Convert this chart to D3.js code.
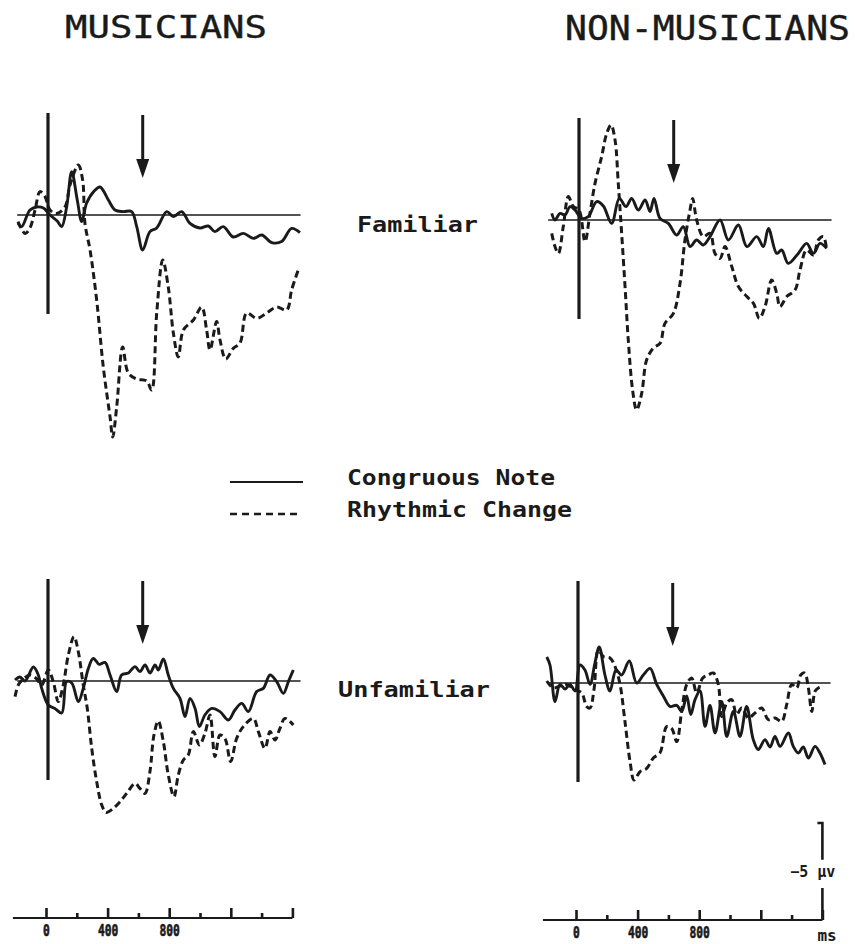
<!DOCTYPE html>
<html>
<head>
<meta charset="utf-8">
<script src="https://cdn.jsdelivr.net/npm/d3@7"></script>
<style>
body{margin:0;background:#fff;}
svg{display:block;background:#fff;}
text{fill:#1a1a1a;}
</style>
</head>
<body>
<svg id="chart" width="855" height="944"></svg>
<script>
// ---- data: [time ms, amplitude µV] (positive plotted downward) ----
var musFamCongruous=[[-195,0.4],[-171,0.58],[-117,-0.25],[-73,-0.4],[-30,-0.35],[13,0],[60,0.3],[89,0.58],[121,-0.4],[154,-2.17],[190,-0.75],[219,0.33],[251,-0.6],[300,-1.2],[338,-1.4],[392,-0.75],[435,-0.25],[488,-0.17],[543,-0.17],[576,0.58],[615,1.75],[662,0.83],[706,0.65],[771,-0.17],[814,0.08],[868,-0.17],[922,0.42],[987,0.65],[1041,0.55],[1084,0.83],[1138,0.58],[1203,1.1],[1268,0.92],[1333,1.17],[1388,1.0],[1453,1.38],[1517,1.33],[1582,0.67],[1636,0.88]];
var musFamRhythmic=[[-195,0.33],[-149,0.92],[-117,0.65],[-84,-0.25],[-52,-1.17],[-19,-0.92],[13,-0.25],[56,-0.08],[110,-0.4],[143,-1.5],[197,-2.5],[225,-1.75],[240,0.42],[273,1.75],[316,4.25],[359,7.6],[403,10.1],[420,11.1],[446,9.6],[485,6.6],[521,7.9],[576,8.2],[641,8.3],[673,8.75],[706,4.9],[745,2.25],[781,3.6],[814,5.9],[846,7.1],[879,5.75],[944,5.25],[998,4.6],[1030,5.75],[1052,6.75],[1095,5.33],[1117,6.25],[1154,7.2],[1203,6.67],[1247,6.4],[1290,4.9],[1355,5.17],[1420,4.9],[1485,4.6],[1550,4.75],[1582,3.75],[1625,2.75]];
var nonFamCongruous=[[-177,-0.33],[-156,0],[-123,-0.33],[-91,-0.25],[-58,-0.67],[-26,-0.5],[17,-0.08],[60,-0.17],[115,-0.92],[158,-0.7],[212,0.17],[262,-1.08],[305,-0.67],[342,-1.08],[385,-0.5],[429,-1.0],[461,-0.42],[487,-1.08],[526,-0.08],[580,0.17],[634,0.75],[677,0.33],[721,1.33],[764,1.0],[807,1.25],[851,0.83],[916,0],[970,1.0],[1035,0.25],[1090,1.33],[1154,0.83],[1197,1.33],[1230,0.42],[1284,1.67],[1316,1.5],[1359,2.17],[1424,1.67],[1478,1.17],[1522,1.67],[1565,1.17],[1608,1.42]];
var nonFamRhythmic=[[-177,0.67],[-156,1.33],[-134,1.67],[-102,0.33],[-69,-1.17],[-37,-0.67],[0,-0.5],[39,1.08],[71,-0.33],[104,-1.83],[147,-3.17],[180,-4.33],[208,-4.75],[234,-4.0],[255,-1.83],[277,0.67],[299,3.33],[320,6.0],[348,8.5],[374,9.5],[407,8.67],[439,7.0],[483,6.4],[526,6.17],[558,5.17],[613,4.67],[656,3.17],[688,1.0],[721,-0.5],[738,-1.08],[764,0],[807,0.83],[851,0.67],[883,1.67],[916,1.92],[948,1.33],[992,2.33],[1035,3.33],[1090,3.83],[1133,4.17],[1171,4.92],[1208,4.33],[1251,3.0],[1284,3.67],[1305,4.33],[1349,3.83],[1403,3.5],[1435,2.5],[1478,1.5],[1522,1.75],[1554,1.0],[1587,0.83],[1608,1.5]];
var musUnfCongruous=[[-214,-0.05],[-182,-0.2],[-149,0],[-95,-0.7],[-63,-0.3],[-41,0.37],[2,1.2],[45,1.37],[89,1.6],[121,0.03],[154,0.1],[197,1.03],[229,0.37],[262,-0.63],[294,-1.13],[333,-0.83],[370,-0.93],[403,-0.3],[446,0.53],[478,-0.3],[522,-0.4],[565,-0.72],[597,-0.47],[630,-0.8],[662,-0.4],[695,-0.8],[716,-0.55],[749,-1.1],[781,-0.3],[814,0.37],[857,0.87],[890,1.78],[922,0.87],[955,1.37],[983,2.28],[1019,1.7],[1063,1.37],[1117,1.53],[1171,1.95],[1214,1.45],[1258,1.12],[1301,1.53],[1355,0.53],[1398,0.37],[1442,-0.3],[1485,0.03],[1528,0.62],[1561,0.03],[1593,-0.55]];
var musUnfRhythmic=[[-214,0.78],[-193,0.2],[-160,-0.1],[-117,-0.3],[-73,-0.1],[-41,0.2],[2,-0.55],[34,0.03],[67,1.03],[99,0.2],[132,-1.3],[169,-2.22],[197,-1.45],[229,0.2],[255,1.37],[284,3.37],[316,5.03],[349,6.2],[377,6.57],[424,6.37],[468,6.03],[511,5.62],[565,5.12],[597,5.37],[630,5.62],[662,4.53],[688,2.7],[716,2.0],[749,3.03],[781,4.7],[818,5.78],[846,4.7],[879,3.95],[911,3.7],[944,2.53],[983,3.2],[1019,2.62],[1052,1.7],[1084,3.78],[1117,2.7],[1149,2.87],[1186,4.03],[1225,2.87],[1268,2.28],[1333,1.87],[1366,2.53],[1409,3.37],[1442,2.53],[1474,2.95],[1506,2.37],[1539,1.87],[1593,2.2]];
var nonUnfCongruous=[[-203,-1.3],[-182,-0.9],[-149,0.93],[-117,0.07],[-84,0.3],[-52,0.07],[-19,0.4],[13,-0.9],[45,-0.65],[78,0.07],[110,-1.0],[138,-1.8],[175,-0.4],[208,0.4],[247,-0.65],[283,-0.4],[333,-1.1],[381,0],[424,-0.4],[468,-0.73],[511,0.07],[554,0.65],[597,1.17],[641,1.12],[673,1.42],[706,0.65],[732,1.58],[760,0.83],[792,0.4],[825,2.17],[857,1.12],[890,2.5],[933,0.92],[966,2.67],[1009,1.42],[1052,2.67],[1095,1.17],[1138,2.83],[1171,3.33],[1214,2.83],[1247,3.2],[1279,2.67],[1312,3.17],[1366,2.5],[1398,3.17],[1431,3.5],[1463,3.2],[1496,3.75],[1539,3.17],[1571,3.5],[1604,4.08]];
var nonUnfRhythmic=[[-203,-0.1],[-160,0.25],[-117,0.15],[-73,0.07],[-19,0.33],[24,0.5],[56,1.17],[78,1.25],[104,0.33],[132,-1.65],[164,-1.33],[208,-1.25],[240,-0.83],[273,0.07],[305,1.93],[338,3.93],[364,4.85],[403,4.43],[446,4.27],[489,3.75],[532,3.5],[576,2.18],[608,2.27],[641,2.93],[673,1.42],[706,0.07],[738,-0.25],[771,0.5],[810,-0.25],[846,-0.4],[879,-0.5],[911,0.07],[933,1.67],[966,1.0],[998,0.83],[1030,1.58],[1063,1.25],[1106,1.75],[1149,1.5],[1193,1.25],[1236,1.83],[1279,1.75],[1323,1.92],[1355,1.08],[1388,0.07],[1420,0.25],[1446,-0.4],[1472,-0.5],[1496,0.25],[1518,1.43],[1539,0.42],[1561,0.25],[1593,0.17]];

var groups=['MUSICIANS','NON-MUSICIANS'];
var conditions=['Familiar','Unfamiliar'];
var seriesNames=['Congruous Note','Rhythmic Change'];
var timeTicks=[0,200,400,600,800,1000,1200,1400,1600];
var tickLabels=[0,400,800];
var arrowTime=615;
var calibration=5; // µV

// ---- layout ----
var pxPerMs=0.154, pxPerUv=20, ink='#1a1a1a';
var panels=[
  {x0:48, y0:215, solid:musFamCongruous, dashed:musFamRhythmic},
  {x0:579,y0:220, solid:nonFamCongruous, dashed:nonFamRhythmic},
  {x0:48, y0:681, solid:musUnfCongruous, dashed:musUnfRhythmic},
  {x0:578,y0:683, solid:nonUnfCongruous, dashed:nonUnfRhythmic}
];
var svg=d3.select('#chart');
var mono='"DejaVu Sans Mono","Liberation Mono",monospace';

panels.forEach(function(p){
  var x=d3.scaleLinear().domain([0,1600]).range([p.x0,p.x0+1600*pxPerMs]),
      y=d3.scaleLinear().domain([0,5]).range([p.y0,p.y0+5*pxPerUv]);
  var g=svg.append('g');
  var line=d3.line().curve(d3.curveCatmullRom.alpha(0.5))
             .x(function(d){return x(d[0]);}).y(function(d){return y(d[1]);});
  // baseline
  g.append('line').attr('x1',x(-200)).attr('x2',x(1640))
   .attr('y1',y(0)).attr('y2',y(0)).attr('stroke',ink).attr('stroke-width',1.7);
  // stimulus onset
  g.append('line').attr('x1',x(0)).attr('x2',x(0))
   .attr('y1',y(-5.1)).attr('y2',y(4.95)).attr('stroke',ink).attr('stroke-width',3.2);
  // arrow
  g.append('line').attr('x1',x(arrowTime)).attr('x2',x(arrowTime))
   .attr('y1',y(-5)).attr('y2',y(-2.6)).attr('stroke',ink).attr('stroke-width',3);
  g.append('path').attr('fill',ink)
   .attr('d','M'+(x(arrowTime)-6.5)+','+y(-2.8)+'L'+(x(arrowTime)+6.5)+','+y(-2.8)+'L'+x(arrowTime)+','+y(-1.85)+'Z');
  g.append('path').datum(p.solid).attr('d',line).attr('fill','none')
   .attr('stroke',ink).attr('stroke-width',2.9).attr('stroke-linejoin','round');
  g.append('path').datum(p.dashed).attr('d',line).attr('fill','none')
   .attr('stroke',ink).attr('stroke-width',3).attr('stroke-dasharray','7,4');
});

// titles
svg.append('text').attr('x',65).attr('y',38).text(groups[0]).attr('stroke',ink).attr('stroke-width',0.4)
   .attr('font-family',mono).attr('font-size',32).attr('textLength',202).attr('lengthAdjust','spacingAndGlyphs');
svg.append('text').attr('x',565).attr('y',40).text(groups[1]).attr('stroke',ink).attr('stroke-width',0.4)
   .attr('font-family',mono).attr('font-size',33).attr('textLength',285).attr('lengthAdjust','spacingAndGlyphs');
// condition labels
svg.append('text').attr('x',357).attr('y',232).text(conditions[0])
   .attr('font-family',mono).attr('font-weight','bold').attr('font-size',22).attr('textLength',121).attr('lengthAdjust','spacingAndGlyphs');
svg.append('text').attr('x',338).attr('y',697).text(conditions[1])
   .attr('font-family',mono).attr('font-weight','bold').attr('font-size',22).attr('textLength',152).attr('lengthAdjust','spacingAndGlyphs');

// legend
svg.append('line').attr('x1',230).attr('x2',303).attr('y1',482).attr('y2',482)
   .attr('stroke',ink).attr('stroke-width',2.2);
svg.append('line').attr('x1',230).attr('x2',302).attr('y1',514).attr('y2',514)
   .attr('stroke',ink).attr('stroke-width',2.6).attr('stroke-dasharray','7,5');
svg.append('text').attr('x',347).attr('y',485).text(seriesNames[0])
   .attr('font-family',mono).attr('font-weight','bold').attr('font-size',22).attr('textLength',208).attr('lengthAdjust','spacingAndGlyphs');
svg.append('text').attr('x',347).attr('y',517).text(seriesNames[1])
   .attr('font-family',mono).attr('font-weight','bold').attr('font-size',22).attr('textLength',225).attr('lengthAdjust','spacingAndGlyphs');

// time axes
[{x0:46,y:918},{x0:576,y:920}].forEach(function(a){
  var x=d3.scaleLinear().domain([0,1600]).range([a.x0,a.x0+1600*pxPerMs]);
  var ax=d3.axisBottom(x).tickValues(timeTicks).tickSizeOuter(0).tickSizeInner(-9).tickPadding(7)
           .tickFormat(function(d){return tickLabels.indexOf(d)>=0?d:'';});
  var g=svg.append('g').attr('transform','translate(0,'+a.y+')').call(ax);
  g.select('.domain').remove();
  g.append('line').attr('x1',x(-215)).attr('x2',x(1600)).attr('stroke',ink).attr('stroke-width',2.2);
  g.selectAll('.tick line').attr('stroke',ink).attr('stroke-width',2.6)
   .attr('y2',function(d){return (d/200)%2===0?-10:-5;});
  g.selectAll('.tick text').attr('font-family',mono).attr('font-weight','bold')
   .attr('font-size',15).attr('fill',ink).attr('stroke',ink).attr('stroke-width',0.6)
   .attr('textLength',function(d){return String(d).length*6.8;}).attr('lengthAdjust','spacingAndGlyphs');
});
// ms label and calibration bar
var xr=d3.scaleLinear().domain([0,1600]).range([576,576+1600*pxPerMs]);
var yc=d3.scaleLinear().domain([0,calibration]).range([920,823]);
svg.append('text').attr('x',xr(1600)-5).attr('y',941).text('ms').attr('font-family',mono)
   .attr('font-weight','bold').attr('font-size',16);
svg.append('path').attr('fill','none').attr('stroke',ink).attr('stroke-width',2.6)
   .attr('d','M'+(xr(1600)-5)+','+yc(calibration)+'H'+xr(1600)+'V'+yc(calibration*0.62));
svg.append('line').attr('x1',xr(1600)).attr('x2',xr(1600)).attr('y1',yc(calibration*0.33)).attr('y2',yc(0))
   .attr('stroke',ink).attr('stroke-width',2.6);
svg.append('text').attr('x',xr(1600)+13).attr('y',877).attr('text-anchor','end')
   .text('\u2212'+calibration+' \u00b5v').attr('font-family',mono).attr('font-weight','bold').attr('font-size',15);
</script>
</body>
</html>
